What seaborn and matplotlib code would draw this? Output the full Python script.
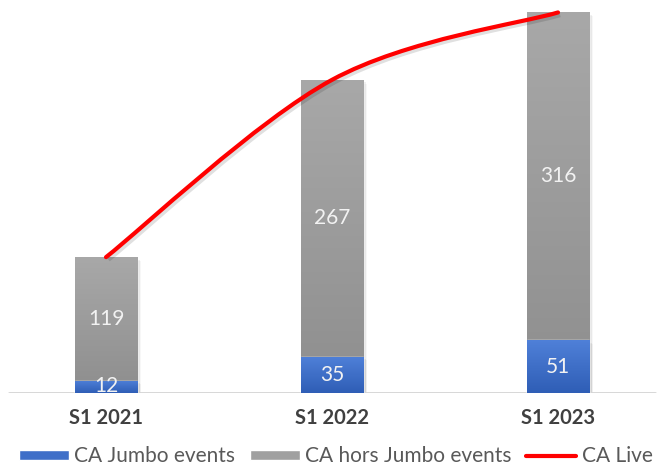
import numpy as np
import pandas as pd
from matplotlib import pyplot as plt
from matplotlib import transforms
from matplotlib.path import Path
from matplotlib.patches import PathPatch, Patch
from matplotlib.lines import Line2D
import seaborn as sns

periods = ['S1 2021', 'S1 2022', 'S1 2023']
jumbo = [12, 35, 51]
hors_jumbo = [119, 267, 316]
live = [131, 302, 367]

sns.set_theme(style='white')
plt.rcParams['font.family'] = ['Lato', 'DejaVu Sans']

df = pd.DataFrame({'period': periods, 'jumbo': jumbo, 'hors': hors_jumbo})
df['total'] = df['jumbo'] + df['hors']

fig = plt.figure(figsize=(6.65, 4.67), dpi=100)
ax = fig.add_axes([0, 74 / 467, 1, 393 / 467])

# stacked bars: total (gray) first, jumbo (blue) over it
sns.barplot(data=df, x='period', y='total', color='#a0a0a0', width=0.275,
            saturation=1, ax=ax, zorder=2)
gray_patches = list(ax.patches)
sns.barplot(data=df, x='period', y='jumbo', color='#3f6fc8', width=0.275,
            saturation=1, ax=ax, zorder=3)
blue_patches = [p for p in ax.patches if p not in gray_patches]


def hexrgb(h):
    return [int(h[i:i + 2], 16) / 255 for i in (1, 3, 5)]


def gradient_fill(patch, top, bottom, z):
    x0, y0 = patch.get_x(), patch.get_y()
    w, h = patch.get_width(), patch.get_height()
    c = np.linspace(0, 1, 64)[:, None, None]
    img = (1 - c) * np.array(hexrgb(top))[None, None, :] + c * np.array(hexrgb(bottom))[None, None, :]
    im = ax.imshow(img, extent=[x0, x0 + w, y0, y0 + h], aspect='auto',
                   origin='upper', zorder=z, interpolation='bicubic')
    im.set_clip_path(patch)
    # soft shadow
    for k, a in enumerate([0.10, 0.06, 0.03]):
        ax.add_patch(plt.Rectangle((x0 + 0.006 * (k + 1), y0 - 1.2 * (k + 1)), w, h,
                                   color='black', alpha=a, lw=0, zorder=1))


for p in gray_patches:
    gradient_fill(p, '#a8a8a8', '#8e8e8e', 2.5)
for p in blue_patches:
    gradient_fill(p, '#4f80d8', '#2f5eb6', 3.5)

# labels
for i in range(len(periods)):
    ax.text(i, jumbo[i] + hors_jumbo[i] / 2, str(hors_jumbo[i]), ha='center', va='center',
            color='#f2f2f2', fontsize=15, zorder=6)
    ax.text(i, max(jumbo[i] / 2, 7), str(jumbo[i]), ha='center', va='center',
            color='#f2f2f2', fontsize=15, zorder=6)

# smoothed CA Live line (bezier through the points)
xs = np.arange(len(live), dtype=float)
ys = np.array(live, dtype=float)
verts = [(xs[0], ys[0])]
codes = [Path.MOVETO]
n = len(xs)
for i in range(n - 1):
    pm = i - 1 if i > 0 else i
    pp = i + 2 if i + 2 < n else i + 1
    c1 = (xs[i] + (xs[i + 1] - xs[pm]) / 6, ys[i] + (ys[i + 1] - ys[pm]) / 6)
    c2 = (xs[i + 1] - (xs[pp] - xs[i]) / 6, ys[i + 1] - (ys[pp] - ys[i]) / 6)
    verts += [c1, c2, (xs[i + 1], ys[i + 1])]
    codes += [Path.CURVE4] * 3
shadow = ax.transData + transforms.ScaledTranslation(2 / 100, -2 / 100, fig.dpi_scale_trans)
ax.add_patch(PathPatch(Path(verts, codes), fill=False, edgecolor='black', alpha=0.12,
                       lw=4, zorder=4, transform=shadow))
ax.add_patch(PathPatch(Path(verts, codes), fill=False, edgecolor='#ff0000', lw=3,
                       capstyle='round', zorder=5))

ax.axhline(0, xmin=0.014, xmax=0.985, color='#d4d4d4', lw=2, zorder=1)
ax.set_xlim(-106 / 226, (665 - 106) / 226)
ax.set_ylim(0, 379)
ax.set_yticks([])
ax.set_xlabel('')
ax.set_ylabel('')
for s in ax.spines.values():
    s.set_visible(False)
ax.tick_params(axis='x', length=0, pad=11)
for lbl in ax.get_xticklabels():
    lbl.set_fontweight('bold')
    lbl.set_color('#404040')
    lbl.set_fontsize(14.5)

handles = [Patch(facecolor='#3f6fc8', label='CA Jumbo events'),
           Patch(facecolor='#a0a0a0', label='CA hors Jumbo events'),
           Line2D([0], [0], color='#ff0000', lw=3, label='CA Live')]
fig.legend(handles=handles, loc='lower center', bbox_to_anchor=(0.505, -0.03), ncol=3,
           frameon=False, fontsize=15, labelcolor='#595959', handlelength=2.4,
           handleheight=0.4, handletextpad=0.25, columnspacing=0.7, borderpad=0.2)

fig.savefig('out.png', dpi=100)
